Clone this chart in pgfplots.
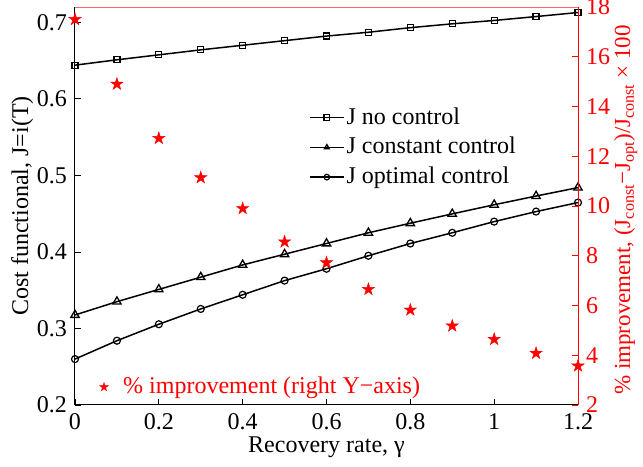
\documentclass[border=0pt]{standalone}
\usepackage{pgfplots}
\pgfplotsset{compat=1.18}
\usepackage{fontspec}
\setmainfont{Liberation Serif}

% filled five-point star, as the MATLAB pentagram
\pgfdeclareplotmark{pstar}{%
  \pgfpathmoveto{\pgfpointpolar{90}{\pgfplotmarksize}}%
  \pgfpathlineto{\pgfpointpolar{126}{0.382\pgfplotmarksize}}%
  \pgfpathlineto{\pgfpointpolar{162}{\pgfplotmarksize}}%
  \pgfpathlineto{\pgfpointpolar{198}{0.382\pgfplotmarksize}}%
  \pgfpathlineto{\pgfpointpolar{234}{\pgfplotmarksize}}%
  \pgfpathlineto{\pgfpointpolar{270}{0.382\pgfplotmarksize}}%
  \pgfpathlineto{\pgfpointpolar{306}{\pgfplotmarksize}}%
  \pgfpathlineto{\pgfpointpolar{342}{0.382\pgfplotmarksize}}%
  \pgfpathlineto{\pgfpointpolar{18}{\pgfplotmarksize}}%
  \pgfpathlineto{\pgfpointpolar{54}{0.382\pgfplotmarksize}}%
  \pgfpathclose
  \pgfusepathqfillstroke
}

\pgfplotstableread{
x     nocon   const   opt     impr
0.0   0.644   0.3176  0.260   17.50
0.1   0.651   0.335   0.284   14.90
0.2   0.6575  0.351   0.3055  12.72
0.3   0.664   0.367   0.3255  11.14
0.4   0.670   0.383   0.344   9.90
0.5   0.676   0.397   0.3625  8.56
0.6   0.682   0.411   0.378   7.72
0.7   0.687   0.425   0.395   6.65
0.8   0.693   0.4375  0.411   5.82
0.9   0.698   0.4497  0.425   5.18
1.0   0.7024  0.4616  0.4396  4.64
1.1   0.7075  0.473   0.4527  4.08
1.2   0.7128  0.484   0.4645  3.57
}\data

\newcommand{\bigf}{\fontsize{24}{28}\selectfont}

\begin{document}
\bigf
\begin{tikzpicture}
\begin{axis}[
  name=ax1, scale only axis, width=503pt, height=398pt,
  xmin=0, xmax=1.2, ymin=0.2, ymax=0.72,
  axis x line*=bottom, axis y line*=left,
  xtick={0,0.2,0.4,0.6,0.8,1,1.2},
  ytick={0.2,0.3,0.4,0.5,0.6,0.7},
  tick align=inside, major tick length=6pt,
  axis line style={line width=1pt},
  tick style={line width=0.8pt, black},
  /pgf/number format/assume math mode=true,
  tick label style={font=\bigf},
  label style={font=\bigf},
  xlabel={Recovery rate, γ},
  ylabel={Cost functional, J=i(T)},
  xlabel style={at={(axis description cs:0.5,-0.105)}, anchor=center},
  ylabel style={at={(axis description cs:-0.105,0.5)}, anchor=center},
  legend style={at={(axis description cs:0.465,0.753)}, anchor=north west,
    draw=none, fill=none, font=\bigf, inner sep=0pt, row sep=5.5pt},
  legend cell align=left,
  legend image code/.code={%
    \draw[mark repeat=2, mark phase=2, #1, mark size=2.8pt]
      plot coordinates {(0pt,0pt) (17pt,0pt) (34pt,0pt)};},
]
\addplot[black, line width=1.5pt, mark=square, mark size=3pt,
  mark options={line width=1.2pt, fill=white}] table[x=x, y=nocon] {\data};
\addlegendentry{J no control}
\addplot[black, line width=1.5pt, mark=triangle, mark size=4.8pt,
  mark options={line width=1.3pt}] table[x=x, y=const] {\data};
\addlegendentry{J constant control}
\addplot[black, line width=1.5pt, mark=o, mark size=3.5pt,
  mark options={line width=1.2pt}] table[x=x, y=opt] {\data};
\addlegendentry{J optimal control}
\end{axis}

\begin{axis}[
  scale only axis, width=503pt, height=398pt,
  xmin=0, xmax=1.2, ymin=2, ymax=18,
  axis y line*=right, axis x line*=top, xtick=\empty,
  ytick={2,4,6,8,10,12,14,16,18},
  tick align=inside, major tick length=6pt,
  y axis line style={red, line width=1pt},
  x axis line style={red!60, line width=0.8pt},
  tick style={line width=0.8pt, red},
  /pgf/number format/assume math mode=true,
  tick label style={font=\bigf, text=red},
  label style={font=\fontsize{23}{27}\selectfont, text=red},
  ylabel={\% improvement, (J\textsubscript{const}−J\textsubscript{opt})/J\textsubscript{const} × 100},
  ylabel style={at={(axis description cs:1.095,0.49)}, anchor=center},
  legend style={at={(axis description cs:0.039,0.045)}, anchor=west,
    draw=none, fill=none, font=\bigf, text=red, inner sep=0pt},
  legend image code/.code={%
    \path (0pt,0pt) (26pt,0pt);
    \draw[#1, mark size=4.5pt] plot coordinates {(9pt,0pt)};},
]
\addplot[red, only marks, mark=pstar, mark size=6.5pt] table[x=x, y=impr] {\data};
\addlegendentry{\% improvement (right Y−axis)}
\end{axis}

\pgfresetboundingbox
\path[use as bounding box] ([shift={(-75pt,-62pt)}]ax1.south west)
  rectangle ([shift={(65pt,7pt)}]ax1.north east);
\end{tikzpicture}
\end{document}
